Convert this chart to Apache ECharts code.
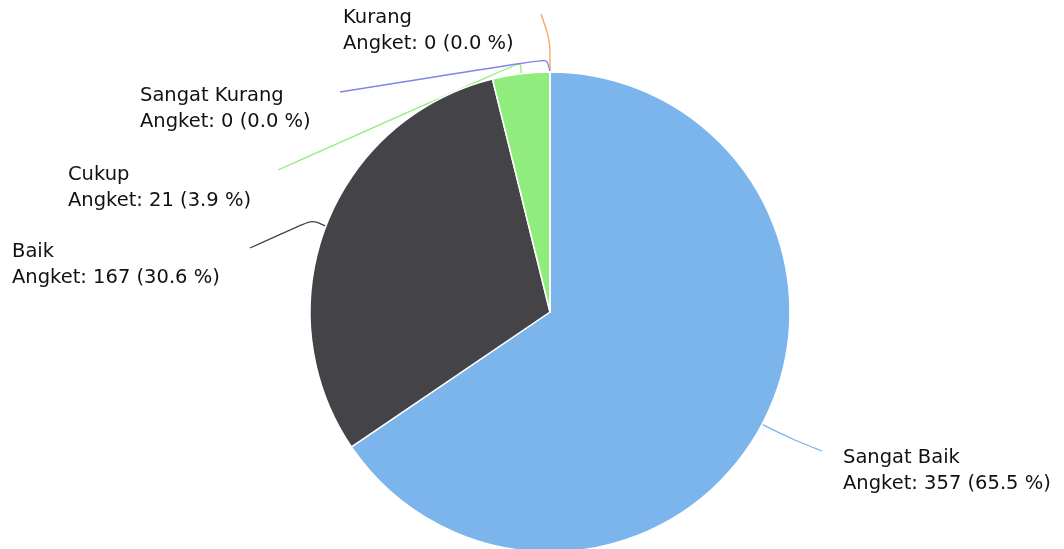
<!DOCTYPE html>
<html><head><meta charset="utf-8">
<script src="https://cdn.jsdelivr.net/npm/echarts@6/dist/echarts.min.js"></script>
<style>html,body{margin:0;padding:0;background:#fff}#c{width:1064px;height:549px}</style>
</head><body><div id="c"></div>
<script>
const categories = ['Sangat Baik', 'Baik', 'Cukup', 'Kurang', 'Sangat Kurang'];
const values = [357, 167, 21, 0, 0];
const colors = ['#7cb5ec', '#434348', '#90ed7d', '#f7a35c', '#8085e9'];
const seriesLabel = 'Angket';

// label placement (text anchor and connector elbow/end), styling only
const labelPos = [
  {x: 843, y: 445, ex: 822, ey: 451, mx: 792, my: 439},
  {x: 12, y: 239, ex: 250, ey: 248, mx: 312, my: 220},
  {x: 68, y: 162, ex: 278, ey: 170, mx: 521, my: 62},
  {x: 343, y: 5, ex: 541, ey: 14, mx: 550, my: 40},
  {x: 140, y: 83, ex: 340, ey: 92, mx: 547, my: 59}
];

const chart = echarts.init(document.getElementById('c'));
chart.setOption({
  animation: false,
  series: [{
    type: 'pie',
    center: [550, 312],
    radius: 240,
    startAngle: 90,
    clockwise: true,
    avoidLabelOverlap: false,
    data: categories.map((n, i) => ({name: n, value: values[i], itemStyle: {color: colors[i]}, labelLine: {lineStyle: {color: colors[i]}}})),
    itemStyle: {borderColor: '#fff', borderWidth: 1.5},
    label: {
      show: true,
      formatter: p => p.name + '\n' + seriesLabel + ': ' + p.value + ' (' + p.percent.toFixed(1) + ' %)',
      fontFamily: 'DejaVu Sans',
      fontSize: 19.5,
      lineHeight: 26,
      color: '#111'
    },
    labelLine: {show: true, smooth: 0.25, lineStyle: {width: 1.3}},
    labelLayout: function (params) {
      const lp = labelPos[params.dataIndex];
      const start = params.labelLinePoints ? params.labelLinePoints[0] : [lp.mx, lp.my];
      return {
        x: lp.x, y: lp.y, align: 'left', verticalAlign: 'top',
        labelLinePoints: [start, [lp.mx, lp.my], [lp.ex, lp.ey]]
      };
    }
  }]
});
</script></body></html>
